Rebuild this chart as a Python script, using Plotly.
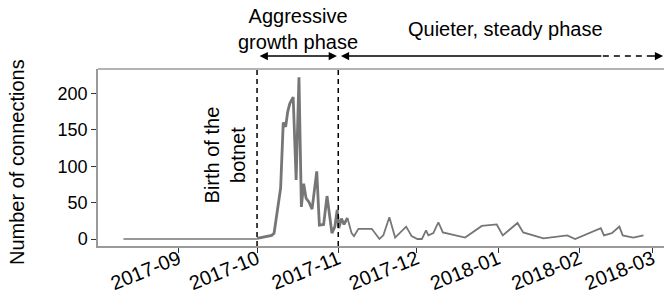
import plotly.graph_objects as go

# ---- data ----
pre_dates = ["2017-08-11", "2017-10-01"]
pre_values = [0, 0]

aggr_dates = [
    "2017-10-01 00:00", "2017-10-06 14:00", "2017-10-07 12:00", "2017-10-09 00:00",
    "2017-10-10 00:00", "2017-10-11 00:00", "2017-10-11 22:00", "2017-10-12 17:00",
    "2017-10-13 12:00", "2017-10-14 19:00", "2017-10-15 22:00", "2017-10-17 00:00",
    "2017-10-17 22:00", "2017-10-18 19:00", "2017-10-19 17:00", "2017-10-20 19:00",
    "2017-10-22 00:00", "2017-10-23 19:00", "2017-10-24 19:00", "2017-10-26 10:00",
    "2017-10-27 17:00", "2017-10-29 14:00", "2017-10-30 17:00", "2017-10-31 14:00",
    "2017-11-01 05:00", "2017-11-02 05:00", "2017-11-03 05:00", "2017-11-04 12:00",
]
aggr_values = [
    1, 5, 8, 47,
    70, 160, 154, 175,
    186, 195, 81, 222,
    44, 76, 56, 51,
    41, 93, 19, 20,
    59, 8, 17, 40,
    15, 28, 20, 29,
]

quiet_dates = [
    "2017-11-04 12:00", "2017-11-06 02:00", "2017-11-07 00:00", "2017-11-08 17:00",
    "2017-11-13 19:00", "2017-11-16 17:00", "2017-11-18 05:00", "2017-11-20 12:00",
    "2017-11-22 17:00", "2017-11-26 22:00", "2017-11-29 00:00", "2017-12-01 05:00",
    "2017-12-02 22:00", "2017-12-04 12:00", "2017-12-05 10:00", "2017-12-07 07:00",
    "2017-12-09 05:00", "2017-12-10 22:00", "2017-12-19 10:00", "2017-12-25 19:00",
    "2017-12-31 12:00", "2018-01-02 19:00", "2018-01-08 10:00", "2018-01-10 14:00",
    "2018-01-18 07:00", "2018-01-27 10:00", "2018-01-30 10:00", "2018-02-09 05:00",
    "2018-02-10 10:00", "2018-02-13 10:00", "2018-02-16 07:00", "2018-02-17 14:00",
    "2018-02-21 14:00", "2018-02-25 12:00",
]
quiet_values = [
    29, 8, 4, 14,
    14, 0, 5, 30,
    2, 17, 4, 0,
    0, 12, 5, 8,
    23, 9, 2, 18,
    20, 5, 22, 9,
    1, 5, 0, 15,
    5, 8, 17, 5,
    2, 5,
]

tick_vals = ["2017-09-01", "2017-10-01", "2017-11-01", "2017-12-01",
             "2018-01-01", "2018-02-01", "2018-03-01"]
tick_text = ["2017-09", "2017-10", "2017-11", "2017-12", "2018-01", "2018-02", "2018-03"]
y_ticks = [0, 50, 100, 150, 200]

birth_date = "2017-10-01"
growth_end = "2017-11-01"

FONT = "Liberation Sans, Arial, Helvetica, sans-serif"
LINE_COLOR = "#767676"
SPINE = "#9a9a9a"

fig = go.Figure()
fig.add_trace(go.Scatter(x=pre_dates, y=pre_values, mode="lines",
                         line=dict(color=LINE_COLOR, width=1.5), showlegend=False))
fig.add_trace(go.Scatter(x=quiet_dates, y=quiet_values, mode="lines",
                         line=dict(color=LINE_COLOR, width=1.8), showlegend=False))
fig.add_trace(go.Scatter(x=aggr_dates, y=aggr_values, mode="lines",
                         line=dict(color=LINE_COLOR, width=2.8), showlegend=False))

# vertical dashed markers
for d in [birth_date, growth_end]:
    fig.add_shape(type="line", xref="x", yref="paper", x0=d, x1=d, y0=0, y1=1,
                  line=dict(color="black", width=1.5, dash="5px,4px"))

# top spine
fig.add_shape(type="line", xref="paper", yref="paper", x0=0, x1=1, y0=1, y1=1,
              line=dict(color=SPINE, width=1.5))

ARROW_Y = 1.073
ARROW_KW = dict(text="", showarrow=True, arrowhead=2, arrowsize=1.1,
                arrowwidth=1.5, arrowcolor="black", font=dict(size=1))
# aggressive-phase double arrow
fig.add_annotation(xref="x", yref="paper", x="2017-10-31 12:00", y=ARROW_Y,
                   axref="x", ayref="pixel", ax="2017-10-01 10:00", ay=0,
                   arrowside="end+start", **ARROW_KW)
# quiet-phase solid arrow (pointing left)
fig.add_annotation(xref="x", yref="paper", x="2017-11-02 00:00", y=ARROW_Y,
                   axref="x", ayref="pixel", ax="2018-02-10 00:00", ay=0, **ARROW_KW)
# dashed continuation
fig.add_shape(type="line", xref="x", yref="paper", x0="2018-02-10 00:00",
              x1="2018-03-01 12:00", y0=ARROW_Y, y1=ARROW_Y,
              line=dict(color="black", width=1.5, dash="6px,5px"))
fig.add_annotation(xref="x", yref="paper", x="2018-03-05 00:00", y=ARROW_Y,
                   axref="pixel", ayref="pixel", ax=-12, ay=0, **ARROW_KW)

# phase labels
fig.add_annotation(xref="x", yref="paper", x="2017-10-16 14:00", y=1.226,
                   text="Aggressive<br>growth phase", showarrow=False,
                   font=dict(family=FONT, size=20, color="black"),
                   xanchor="center", yanchor="middle")
fig.add_annotation(xref="x", yref="paper", x="2018-01-03 16:00", y=1.226,
                   text="Quieter, steady phase", showarrow=False,
                   font=dict(family=FONT, size=20, color="black"),
                   xanchor="center", yanchor="middle")
fig.add_annotation(xref="x", yref="y", x="2017-09-18 20:00", y=115,
                   text="Birth of the<br>botnet", showarrow=False, textangle=-90,
                   font=dict(family=FONT, size=20, color="black"),
                   xanchor="center", yanchor="middle")
# y-axis title
fig.add_annotation(xref="paper", yref="paper", x=-0.143, y=0.475,
                   text="Number of connections", showarrow=False, textangle=-90,
                   font=dict(family=FONT, size=20, color="black"),
                   xanchor="center", yanchor="middle")

fig.update_layout(
    width=664, height=299,
    margin=dict(l=98, r=0, t=69, b=53),
    plot_bgcolor="white", paper_bgcolor="white",
    font=dict(family=FONT, size=18, color="black"),
    showlegend=False,
)
fig.update_xaxes(
    type="date", range=["2017-08-01 07:00", "2018-03-05 08:00"], automargin=False,
    tickvals=tick_vals, ticktext=tick_text, tickangle=-22, ticklabelstandoff=-13,
    showgrid=False, zeroline=False, showline=True, linecolor=SPINE, linewidth=1.5,
    ticks="outside", ticklen=5, tickcolor="#333", tickwidth=1,
    tickfont=dict(family=FONT, size=20, color="black"),
)
fig.update_yaxes(
    range=[-9.6, 233.5], tickvals=y_ticks, automargin=False,
    showgrid=False, zeroline=False, showline=True, linecolor=SPINE, linewidth=1.5,
    ticks="outside", ticklen=5, tickcolor="#333", tickwidth=1,
    tickfont=dict(family=FONT, size=18, color="black"),
)

fig.write_html(
    "out.html",
    config={"displayModeBar": False},
    post_script="document.body.style.margin='0px';document.body.style.overflow='hidden';",
)
